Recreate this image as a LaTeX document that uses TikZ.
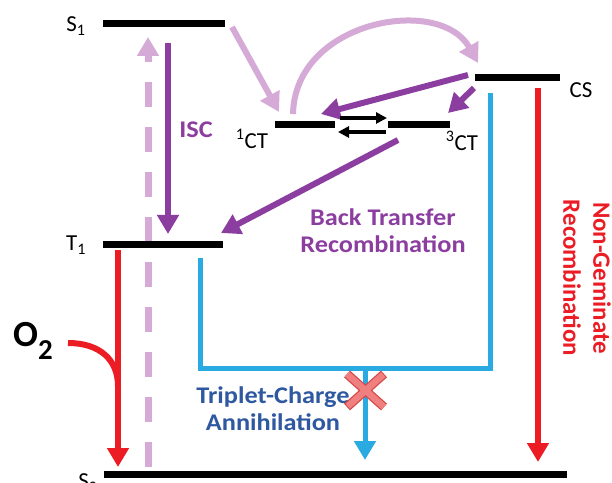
\documentclass[tikz,border=0pt]{standalone}
\usepackage{fontspec}
\setmainfont{Carlito}
\usetikzlibrary{arrows.meta}
\definecolor{dpurple}{RGB}{140,62,160}
\definecolor{lpurple}{RGB}{214,170,214}
\definecolor{ared}{RGB}{236,28,36}
\definecolor{ablue}{RGB}{41,171,226}
\definecolor{tblue}{RGB}{46,88,160}
\definecolor{xfill}{RGB}{240,128,128}
\definecolor{xdraw}{RGB}{214,72,72}
\begin{document}
\begin{tikzpicture}[x=1bp,y=-1bp,
  level/.style={line width=7bp,black},
  lbl/.style={font=\fontsize{23}{26}\selectfont, inner sep=0pt},
  btxt/.style={font=\bfseries\fontsize{24}{27}\selectfont, align=center, inner sep=0pt, xscale=1.1},
  tip/.style={-{Triangle[width=21bp,length=19bp]}},
  smalltip/.style={-{Triangle[width=11bp,length=11bp]}},
  fat/.style={line width=6bp},
]
\useasboundingbox (0,0) rectangle (612,483);
\fill[white] (0,0) rectangle (612,483);
% levels
\coordinate (S1a) at (103,24); \coordinate (S1b) at (225,24);
\coordinate (T1a) at (103,244); \coordinate (T1b) at (223,244);
\coordinate (S0a) at (104,474); \coordinate (S0b) at (567,474);
\coordinate (CTa) at (275,125); \coordinate (CTb) at (335,125);
\coordinate (TCa) at (388,125); \coordinate (TCb) at (450,125);
\coordinate (CSa) at (475,78); \coordinate (CSb) at (560,78);
% level labels
\node[lbl] (S1l) at (76,26) {S\textsubscript{1}};
\node[lbl] (T1l) at (76,245) {T\textsubscript{1}};
\node[lbl] (S0l) at (88,483) {S\textsubscript{0}};
\node[lbl] (CTl) at (252,139) {\textsuperscript{1}CT};
\node[lbl] (TCl) at (462,141) {\textsuperscript{3}CT};
\node[lbl] (CSl) at (581,90) {CS};
% arrow end points
\coordinate (dashS) at (148,467); \coordinate (dashE) at (148,37);
\coordinate (iscS) at (168,43); \coordinate (iscE) at (168,234);
\coordinate (pS) at (232,27); \coordinate (pE) at (279,112);
\coordinate (arcS) at (293,114); \coordinate (arcE) at (478,63);
\coordinate (d1S) at (468,75); \coordinate (d1E) at (321,114);
\coordinate (d2S) at (474,88); \coordinate (d2E) at (448,113);
\coordinate (d3S) at (398,140); \coordinate (d3E) at (221,233);
\coordinate (e1S) at (340,118); \coordinate (e1E) at (387,118);
\coordinate (e2S) at (386,132); \coordinate (e2E) at (338,132);
\coordinate (rS) at (118,250); \coordinate (rE) at (118,467);
\coordinate (oS) at (68,343); \coordinate (oE) at (118,386);
\coordinate (b1) at (200,258); \coordinate (b2) at (200,368);
\coordinate (b3) at (490,368); \coordinate (b4) at (490,93);
\coordinate (bS) at (365,368); \coordinate (bE) at (365,460);
\coordinate (ngS) at (538,88); \coordinate (ngE) at (538,462);
% pale dashed
\draw[lpurple, line width=7bp, dash pattern=on 25bp off 20bp, tip] (dashS) -- (dashE);
% levels drawn
\draw[level] (S1a) -- (S1b);
\draw[level] (T1a) -- (T1b);
\draw[level] (S0a) -- (S0b);
\draw[level] (CTa) -- (CTb);
\draw[level] (TCa) -- (TCb);
\draw[level] (CSa) -- (CSb);
% purple arrows
\draw[dpurple, fat, tip] (iscS) -- (iscE);
\node[btxt, text=dpurple] (isc) at (196,130) {ISC};
\draw[lpurple, fat, tip] (pS) -- (pE);
\draw[lpurple, fat, tip] (arcS) .. controls (295,20) and (440,-5) .. (arcE);
\draw[dpurple, fat, tip] (d1S) -- (d1E);
\draw[dpurple, fat, tip] (d2S) -- (d2E);
\draw[dpurple, fat, tip] (d3S) -- (d3E);
\draw[black, line width=3.5bp, smalltip] (e1S) -- (e1E);
\draw[black, line width=3.5bp, smalltip] (e2S) -- (e2E);
\node[btxt, text=dpurple] (btr) at (383,231) {Back Transfer\\Recombination};
% red
\draw[ared, fat, tip] (rS) -- (rE);
\draw[ared, fat] (oS) .. controls (100,343) and (118,360) .. (oE);
\node[inner sep=0pt, font=\bfseries\fontsize{37}{40}\selectfont] (o2) at (33,341) {O\raisebox{-13bp}{\fontsize{29}{29}\selectfont 2}};
\draw[ared, fat, tip] (ngS) -- (ngE);
\node[align=center, inner sep=0pt, text=ared, rotate=-90, font=\bfseries\fontsize{25}{30}\selectfont] (ng) at (587,278) {Non-Geminate\\Recombination};
% blue
\draw[ablue, line width=5bp, line join=miter] (b1) -- (b2) -- (b3) -- (b4);
\draw[ablue, line width=5bp, tip] (bS) -- (bE);
\node[btxt, text=tblue] (tca) at (273,409) {Triplet-Charge\\Annihilation};
% X
\coordinate (x1) at (347,374); \coordinate (x2) at (384,407);
\coordinate (x3) at (384,374); \coordinate (x4) at (347,407);
\draw[xdraw, line width=9bp] (x1) -- (x2) (x3) -- (x4);
\draw[xfill, line width=6.5bp, shorten <=1bp, shorten >=1bp] (x1) -- (x2) (x3) -- (x4);
\end{tikzpicture}
\end{document}
